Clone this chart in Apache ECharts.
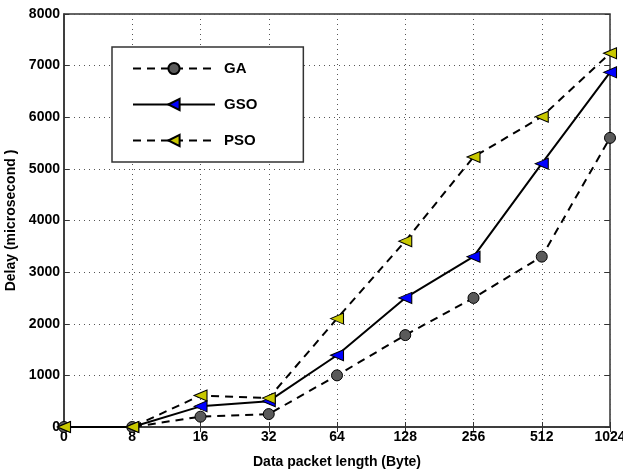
<!DOCTYPE html>
<html><head><meta charset="utf-8">
<script src="https://cdn.jsdelivr.net/npm/echarts@6/dist/echarts.min.js"></script>
<style>html,body{margin:0;padding:0;background:#fff}#c{width:623px;height:475px}</style>
</head><body><div id="c"></div>
<script>
const categories = ['0','8','16','32','64','128','256','512','1024'];
const gaValues  = [0, 0, 200, 250, 1000, 1780, 2500, 3300, 5600];
const gsoValues = [0, 0, 400, 500, 1390, 2500, 3300, 5100, 6870];
const psoValues = [0, 0, 610, 560, 2100, 3600, 5230, 6010, 7240];
const yTicks = [0, 1000, 2000, 3000, 4000, 5000, 6000, 7000, 8000];

const font = '"Liberation Sans Narrow", "Liberation Sans", Arial, sans-serif';
const chart = echarts.init(document.getElementById('c'));
const labelStyle = {color:'#000', fontFamily:font, fontWeight:'bold', fontSize:14};
chart.setOption({
  animation:false,
  grid:{left:64, right:13, top:14, bottom:48, show:true, borderColor:'#333', borderWidth:1.5,
        containLabel:false, outerBoundsMode:'none'},
  legend:{
    orient:'vertical', left:112, top:47,
    padding:[14,46,14,20],
    backgroundColor:'#fff', borderColor:'#333', borderWidth:1.5,
    itemWidth:82, itemHeight:14, itemGap:21,
    textStyle:{color:'#000', fontFamily:font, fontWeight:'bold', fontSize:15, padding:[0,0,0,4]},
    data:['GA','GSO','PSO']
  },
  xAxis:[{
    type:'category', data:categories, boundaryGap:false,
    name:'Data packet length (Byte)', nameLocation:'middle', nameGap:28,
    nameTextStyle:labelStyle,
    axisLine:{lineStyle:{color:'#333', width:1.5}},
    axisTick:{inside:true, length:5, lineStyle:{color:'#333'}},
    axisLabel:Object.assign({margin:3, interval:0}, labelStyle),
    splitLine:{show:true, lineStyle:{type:[1,4], color:'#555', width:1}}
  },{
    type:'category', data:categories, boundaryGap:false, position:'top',
    axisLine:{show:false}, axisLabel:{show:false},
    axisTick:{inside:true, length:5, lineStyle:{color:'#333'}}
  }],
  yAxis:[{
    type:'value', min:0, max:8000, interval:1000,
    name:'Delay (microsecond )', nameLocation:'middle', nameGap:43,
    nameTextStyle:labelStyle,
    axisLine:{show:true, lineStyle:{color:'#333', width:1.5}},
    axisTick:{show:true, inside:true, length:5, lineStyle:{color:'#333'}},
    axisLabel:Object.assign({margin:4, formatter:v=>yTicks.includes(v)?String(v):''}, labelStyle),
    splitLine:{show:true, lineStyle:{type:[1,4], color:'#555', width:1}}
  },{
    type:'value', min:0, max:8000, interval:1000, position:'right',
    axisLine:{show:false}, axisLabel:{show:false}, splitLine:{show:false},
    axisTick:{show:true, inside:true, length:5, lineStyle:{color:'#333'}}
  }],
  series:[
    {name:'GA', type:'line', data:gaValues, symbol:'circle', symbolSize:11,
     lineStyle:{color:'#000', width:2, type:[8,6]},
     itemStyle:{color:'#5a5a5a', borderColor:'#000', borderWidth:1}, z:3},
    {name:'GSO', type:'line', data:gsoValues, symbol:'triangle', symbolSize:[11,13], symbolRotate:90,
     lineStyle:{color:'#000', width:2, type:'solid'},
     itemStyle:{color:'#0000ff', borderColor:'#000', borderWidth:1}, z:4},
    {name:'PSO', type:'line', data:psoValues, symbol:'triangle', symbolSize:[11,13], symbolRotate:90,
     lineStyle:{color:'#000', width:2, type:[8,6]},
     itemStyle:{color:'#c8c800', borderColor:'#000', borderWidth:1}, z:5}
  ]
});
</script></body></html>
